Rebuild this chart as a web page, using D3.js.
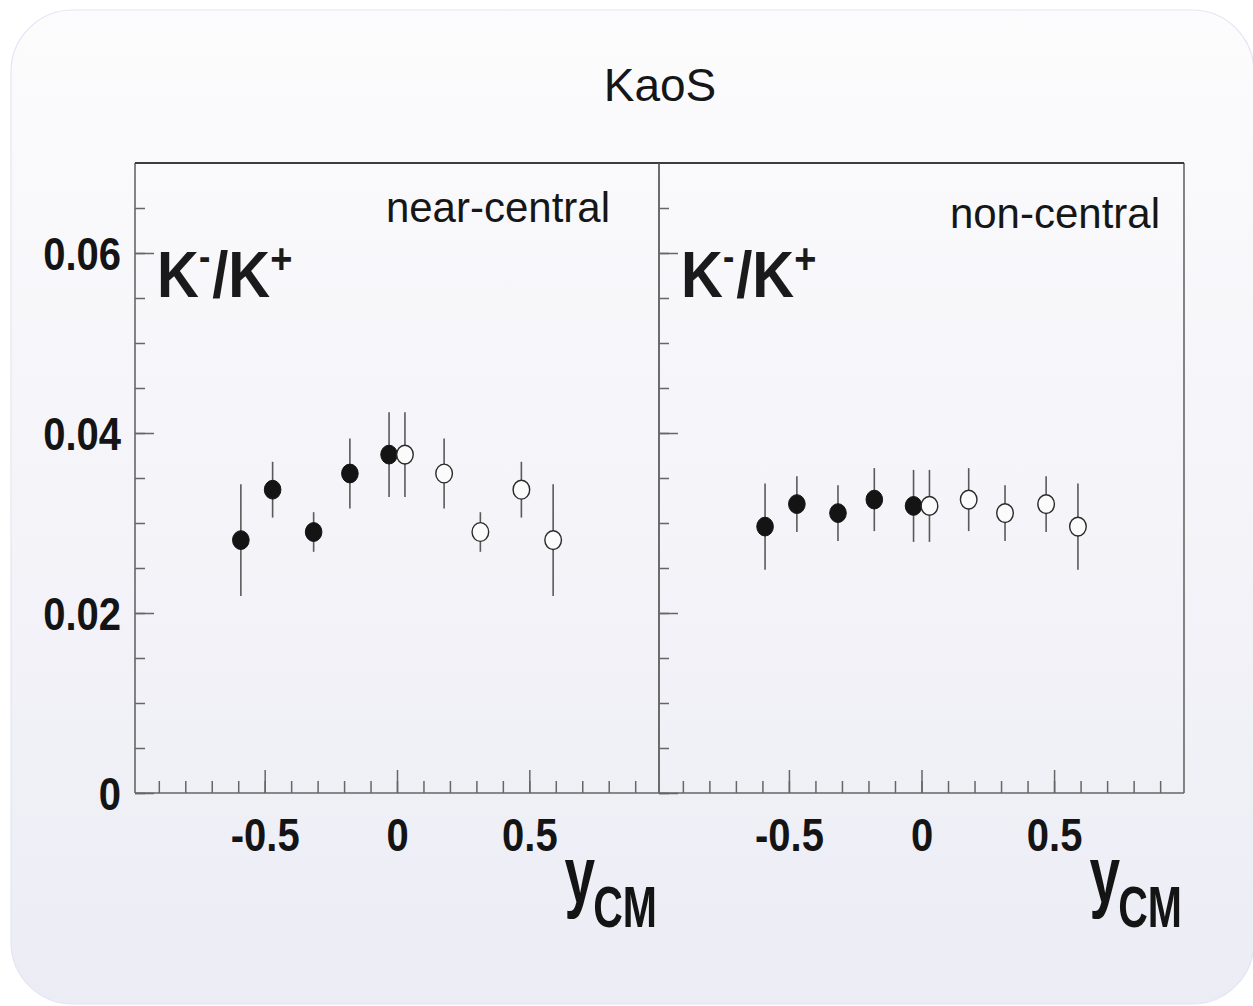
<!DOCTYPE html>
<html>
<head>
<meta charset="utf-8">
<script src="https://cdn.jsdelivr.net/npm/d3@7"></script>
<style>
  html, body { margin: 0; padding: 0; background: #ffffff; }
  svg { display: block; font-family: "Liberation Sans", Arial, Helvetica, sans-serif; }
</style>
</head>
<body>
<svg id="chart" width="1253" height="1006"></svg>
<script>
// K-/K+ ratio versus centre-of-mass rapidity (KaoS)
// Filled points: measured; open points: reflected about y_CM = 0.
const panelNames = ["near-central", "non-central"];

const yMeasured  = [-0.59, -0.47, -0.315, -0.178, -0.03];
const yReflected = [0.03, 0.178, 0.315, 0.47, 0.59];

const nearRatio     = [0.0281, 0.0337, 0.0290, 0.0355, 0.0376];
const nearError     = [0.0062, 0.0031, 0.0022, 0.0039, 0.0047];
const nearRatioRefl = [0.0376, 0.0355, 0.0290, 0.0337, 0.0281];
const nearErrorRefl = [0.0047, 0.0039, 0.0022, 0.0031, 0.0062];

const nonRatio      = [0.0296, 0.0321, 0.0311, 0.0326, 0.0319];
const nonError      = [0.0048, 0.0031, 0.0031, 0.0035, 0.0040];
const nonRatioRefl  = [0.0319, 0.0326, 0.0311, 0.0321, 0.0296];
const nonErrorRefl  = [0.0040, 0.0035, 0.0031, 0.0031, 0.0048];

const xMajorTicks = [-0.5, 0, 0.5];
const xTickLabels = ["-0.5", "0", "0.5"];
const yMajorTicks = [0, 0.02, 0.04, 0.06];
const yTickLabels = ["0", "0.02", "0.04", "0.06"];

const svg = d3.select("#chart");
const W = 1253, H = 1006;

// slide background
const defs = svg.append("defs");
const grad = defs.append("linearGradient").attr("id", "bg").attr("x1", 0).attr("y1", 0).attr("x2", 0).attr("y2", 1);
grad.append("stop").attr("offset", "0%").attr("stop-color", "#fcfcfd");
grad.append("stop").attr("offset", "100%").attr("stop-color", "#ececf5");
svg.append("rect").attr("width", W).attr("height", H).attr("fill", "#ffffff");
svg.append("rect")
  .attr("x", 11).attr("y", 10).attr("width", 1243).attr("height", 994)
  .attr("rx", 62).attr("ry", 62)
  .attr("fill", "url(#bg)").attr("stroke", "#e4e4f4").attr("stroke-width", 1.2);

// title
svg.append("text").attr("x", 660).attr("y", 101).attr("text-anchor", "middle")
  .attr("font-size", 46).attr("fill", "#161616").text("KaoS");

const plotTop = 163, plotBottom = 793;
const y = d3.scaleLinear().domain([0, 0.07]).range([plotBottom, plotTop]);

const layout = [
  { x0: 135, x1: 659, labelEnd: 610, labelBase: 222, yLabels: true },
  { x0: 659, x1: 1184, labelEnd: 1160, labelBase: 228, yLabels: false }
];
const series = [
  { meas: nearRatio, measErr: nearError, refl: nearRatioRefl, reflErr: nearErrorRefl },
  { meas: nonRatio,  measErr: nonError,  refl: nonRatioRefl,  reflErr: nonErrorRefl }
];

const axisColor = "#666";
const minorX = d3.range(-9, 10).map(i => i / 10);
const minorY = d3.range(0, 14).map(i => i * 0.005);

layout.forEach((L, p) => {
  const x = d3.scaleLinear().domain([-0.99, 0.99]).range([L.x0, L.x1]);
  const g = svg.append("g");

  // bottom ticks (pointing up)
  g.append("g").attr("transform", `translate(0,${plotBottom})`)
    .call(d3.axisBottom(x).tickValues(minorX).tickSize(-12).tickFormat(""));
  const gxMajor = g.append("g").attr("transform", `translate(0,${plotBottom})`)
    .call(d3.axisBottom(x).tickValues(xMajorTicks).tickSize(-23).tickPadding(0)
      .tickFormat((d, i) => xTickLabels[i]));
  gxMajor.selectAll("text")
    .attr("y", null).attr("dy", null)
    .attr("transform", "translate(0,58) scale(1,1.15)")
    .attr("font-size", 40).attr("font-weight", "bold").attr("fill", "#141414")
    .attr("font-family", "'Liberation Sans', Arial, sans-serif");

  // left ticks (pointing right)
  g.append("g").attr("transform", `translate(${L.x0},0)`)
    .call(d3.axisLeft(y).tickValues(minorY).tickSize(-10).tickFormat(""));
  const gyMajor = g.append("g").attr("transform", `translate(${L.x0},0)`)
    .call(d3.axisLeft(y).tickValues(yMajorTicks).tickSize(-19).tickPadding(0)
      .tickFormat((d, i) => L.yLabels ? yTickLabels[i] : ""));
  gyMajor.selectAll("text")
    .attr("x", null).attr("dy", null)
    .attr("transform", "translate(-14,16) scale(1,1.15)")
    .attr("font-size", 40).attr("font-weight", "bold").attr("fill", "#141414")
    .attr("font-family", "'Liberation Sans', Arial, sans-serif");

  g.selectAll(".domain").remove();
  g.selectAll(".tick line").attr("stroke", axisColor).attr("stroke-width", 1.5);

  // frame
  g.append("line").attr("x1", L.x0).attr("x2", L.x1).attr("y1", plotBottom).attr("y2", plotBottom)
    .attr("stroke", axisColor).attr("stroke-width", 1.6);
  g.append("line").attr("x1", L.x0).attr("x2", L.x0).attr("y1", plotTop).attr("y2", plotBottom)
    .attr("stroke", axisColor).attr("stroke-width", 1.6);
  g.append("line").attr("x1", L.x1).attr("x2", L.x1).attr("y1", plotTop).attr("y2", plotBottom)
    .attr("stroke", axisColor).attr("stroke-width", 1.6);
  g.append("line").attr("x1", L.x0).attr("x2", L.x1).attr("y1", plotTop).attr("y2", plotTop)
    .attr("stroke", "#3c3c3c").attr("stroke-width", 2.2);

  // panel label
  g.append("text").attr("x", L.labelEnd).attr("y", L.labelBase).attr("text-anchor", "end")
    .attr("font-size", 42).attr("fill", "#161616").text(panelNames[p]);

  // K-/K+ label
  const kt = g.append("text")
    .attr("transform", `translate(${L.x0 + 22},297) scale(1,1.12)`)
    .attr("font-size", 58).attr("font-weight", "bold").attr("fill", "#1a1a1a");
  kt.append("tspan").text("K");
  kt.append("tspan").attr("font-size", 34).attr("dy", -24).attr("dx", 0).text("-");
  kt.append("tspan").attr("dy", 24).attr("dx", 2).text("/");
  kt.append("tspan").text("K");
  kt.append("tspan").attr("font-size", 38).attr("dy", -21).attr("dx", 0).text("+");

  // axis title y_CM
  const yt = g.append("g").attr("transform", `translate(${L.x1 - 2},0)`);
  yt.append("text").attr("transform", "translate(0,927) scale(1,1.4)")
    .attr("text-anchor", "end").attr("font-size", 41).attr("font-weight", "bold")
    .attr("fill", "#141414").text("CM");
  yt.append("text").attr("transform", "translate(-62,902) scale(1,1.44)")
    .attr("text-anchor", "end").attr("font-size", 55).attr("font-weight", "bold")
    .attr("fill", "#141414").text("y");

  // data points
  const S = series[p];
  const pts = yMeasured.map((v, i) => ({ x: v, r: S.meas[i], e: S.measErr[i], filled: true }))
    .concat(yReflected.map((v, i) => ({ x: v, r: S.refl[i], e: S.reflErr[i], filled: false })));

  g.append("g").selectAll("line").data(pts).join("line")
    .attr("x1", d => x(d.x)).attr("x2", d => x(d.x))
    .attr("y1", d => y(d.r + d.e)).attr("y2", d => y(d.r - d.e))
    .attr("stroke", "#5a5a5a").attr("stroke-width", 1.6);

  g.append("g").selectAll("ellipse").data(pts).join("ellipse")
    .attr("cx", d => x(d.x)).attr("cy", d => y(d.r))
    .attr("rx", 8.3).attr("ry", 9.4)
    .attr("fill", d => d.filled ? "#141414" : "#fbfbfc")
    .attr("stroke", d => d.filled ? "#141414" : "#2a2a2a")
    .attr("stroke-width", d => d.filled ? 1 : 1.4);
});
</script>
</body>
</html>
